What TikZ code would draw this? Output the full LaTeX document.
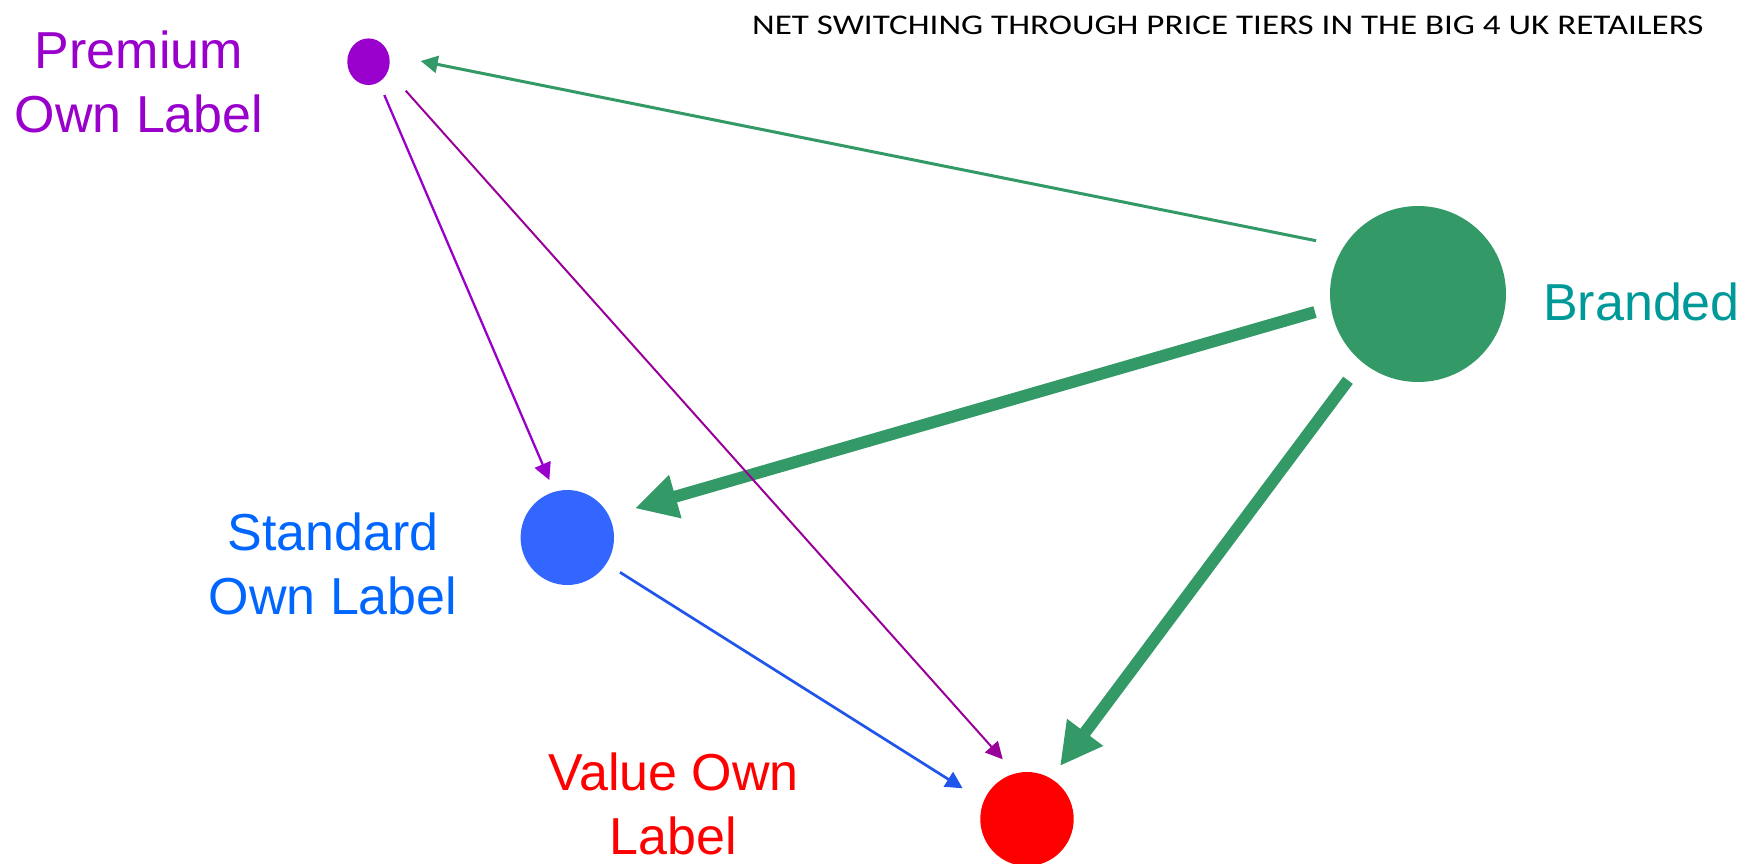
\documentclass[tikz,border=0pt]{standalone}
\usepackage{fontspec}
\usepackage{graphicx}
\setmainfont{Liberation Sans}
\newfontfamily\titlefont{Carlito}
\usetikzlibrary{arrows.meta,shapes.geometric}
\definecolor{premc}{HTML}{9900CC}
\definecolor{premv}{HTML}{990099}
\definecolor{stdc}{HTML}{3366FF}
\definecolor{stdt}{HTML}{0066FF}
\definecolor{stda}{HTML}{1F55EB}
\definecolor{valc}{HTML}{FF0000}
\definecolor{brandc}{HTML}{339966}
\definecolor{brandt}{HTML}{009999}
\tikzset{
  dot/.style={draw=none, inner sep=0pt, outer sep=0pt},
  lbl/.style={inner sep=0pt, align=center, anchor=base, font=\fontsize{52}{64}\selectfont},
  thinarrow/.style={-{Triangle[length=17pt,width=17pt]}},
  bigarrow/.style={-{Triangle[length=42pt,width=42pt]}, line width=12pt, draw=brandc}
}
\begin{document}
\begin{tikzpicture}[x=1pt,y=-1pt]
\useasboundingbox[fill=white] (0,0) rectangle (1746,863);

% circles
\node[dot, ellipse, fill=premc, minimum width=42.4pt, minimum height=46.6pt] (prem) at (368.5,61.7) {};
\node[dot, circle, fill=brandc, minimum size=176pt] (brand) at (1418,294) {};
\node[dot, ellipse, fill=stdc, minimum width=93.4pt, minimum height=95pt] (std) at (567.3,537.5) {};
\node[dot, ellipse, fill=valc, minimum width=93.4pt, minimum height=94pt] (val) at (1027,819) {};

% labels (base = baseline of the last line)
\node[lbl, text=premc] (premt) at (139,132) {Premium\\Own Label};
\node[lbl, text=stdt] (stdt) at (333,614) {Standard\\Own Label};
\node[lbl, text=valc] (valt) at (673.5,854) {Value Own\\Label};
\node[lbl, text=brandt] (brandtx) at (1641.5,320) {Branded};

% title
\node[inner sep=0pt, anchor=base west] (title) at (752,34.3)
  {\titlefont\fontsize{28.5}{30}\selectfont\scalebox{1.23}[1]{NET SWITCHING THROUGH PRICE TIERS IN THE BIG 4 UK RETAILERS}};

% connectors
\draw[thinarrow, draw=brandc, fill=brandc, line width=3pt]
  ([shift={(-102,-53.3)}]brand.center) -- ([shift={(52.2,-0.7)}]prem.center);
\draw[bigarrow]
  ([shift={(-103,18)}]brand.center) -- ([shift={(67.7,-29.2)}]std.center);
\draw[bigarrow]
  ([shift={(-70,86.3)}]brand.center) -- ([shift={(33,-53)}]val.center);
\draw[thinarrow, draw=premc, line width=2.3pt]
  ([shift={(15.8,33.3)}]prem.center) -- ([shift={(-18,-57.5)}]std.center);
\draw[thinarrow, draw=premv, line width=2pt]
  ([shift={(37.2,29)}]prem.center) -- ([shift={(-24.3,-59.7)}]val.center);
\draw[thinarrow, draw=stda, line width=2.7pt]
  ([shift={(52.7,34.8)}]std.center) -- ([shift={(-64.3,-30.7)}]val.center);
\end{tikzpicture}
\end{document}
